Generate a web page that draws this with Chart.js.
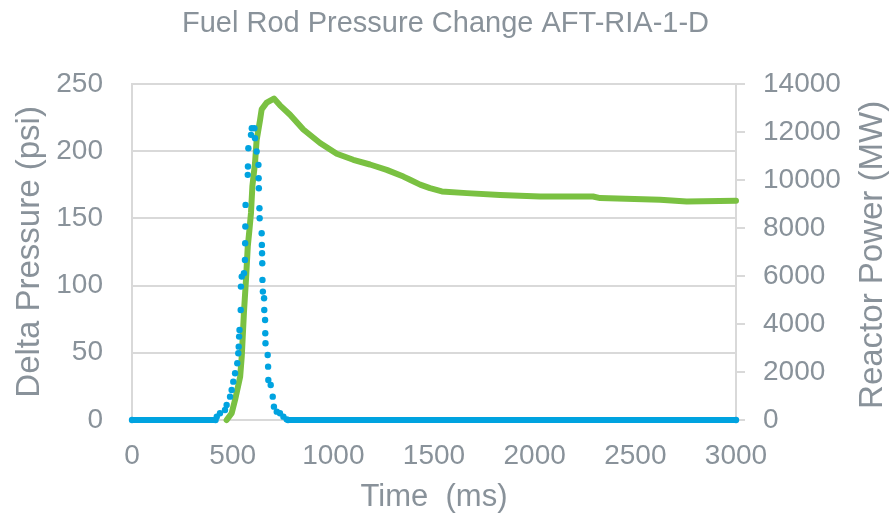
<!DOCTYPE html>
<html>
<head>
<meta charset="utf-8">
<script src="https://cdn.jsdelivr.net/npm/chart.js@4.4.1/dist/chart.umd.min.js"></script>
<style>
  html, body { margin: 0; padding: 0; background: #fff; }
  #wrap { width: 891px; height: 520px; }
</style>
</head>
<body>
<div id="wrap"><canvas id="chart" width="891" height="520"></canvas></div>
<script>
// Données
const xTicks = [0, 500, 1000, 1500, 2000, 2500, 3000];
const pressureTicks = [0, 50, 100, 150, 200, 250];
const powerTicks = [0, 2000, 4000, 6000, 8000, 10000, 12000, 14000];

// Delta Pressure (psi) - axe gauche
const pressureTime = [470, 495, 512, 537, 545, 556, 566, 575, 583, 591, 598, 611, 619, 636, 644, 669, 705, 735, 785, 851, 934, 1017, 1099, 1182, 1265, 1348, 1381, 1431, 1480, 1539, 1663, 1828, 2027, 2290, 2325, 2623, 2755, 3000];
const pressurePsi = [0, 5, 15, 32, 47, 80, 104, 129, 141, 154, 174, 191, 208, 223, 231, 236, 239, 234, 227, 216, 206, 198, 193.5, 190, 186, 181, 178.6, 175, 172.4, 170, 168.7, 167.4, 166.2, 166.2, 165, 163.7, 162.4, 163];

// Reactor Power (MW) - axe droit
const powerTime = [0, 415, 421, 437, 462, 470, 487, 495, 503, 512, 523, 528, 530, 532, 534, 540, 541, 545, 556, 561, 562, 563, 564, 575, 576, 578, 591, 595, 608, 611, 619, 628, 629, 630, 633, 634, 644, 645, 646, 647, 648, 650, 656, 657, 661, 662, 663, 674, 676, 677, 689, 699, 705, 719, 735, 752, 768, 775, 3000];
const powerMW = [0, 0, 139, 278, 417, 625, 972, 1250, 1597, 1944, 2361, 2778, 3055, 3472, 3750, 4583, 5556, 5972, 6111, 6667, 7361, 8055, 8958, 10208, 10555, 11319, 11875, 12152, 12152, 11736, 11180, 10625, 10069, 9653, 8820, 8403, 7778, 7292, 6944, 6528, 5833, 5347, 5069, 4583, 4167, 3611, 3194, 2708, 2222, 1667, 1458, 972, 556, 347, 278, 139, 28, 0, 0];

const textGray = '#89929A';
const gridGray = '#D9D9D9';
const blue = '#00A3E0';
const green = '#7AC142';
const fontFamily = '"Liberation Sans", Arial, sans-serif';

const pressureData = pressureTime.map((t, i) => ({ x: t, y: pressurePsi[i] }));
const powerData = powerTime.map((t, i) => ({ x: t, y: powerMW[i] }));

// Titre de l'axe droit, lu de bas en haut comme sur l'original
const rightTitle = {
    id: 'rightTitle',
    afterDraw(chart) {
        const ctx = chart.ctx;
        const area = chart.chartArea;
        ctx.save();
        ctx.translate(873, (area.top + area.bottom) / 2 + 3);
        ctx.rotate(-Math.PI / 2);
        ctx.font = '33px ' + fontFamily;
        ctx.fillStyle = textGray;
        ctx.textAlign = 'center';
        ctx.textBaseline = 'middle';
        ctx.fillText('Reactor Power (MW)', 0, 0);
        ctx.restore();
    }
};

const plainNumber = v => String(v);

new Chart(document.getElementById('chart'), {
    type: 'scatter',
    data: {
        datasets: [{
            label: 'Reactor Power',
            data: powerData,
            yAxisID: 'y1',
            showLine: true,
            clip: false,
            borderColor: blue,
            backgroundColor: blue,
            borderWidth: 6,
            pointRadius: 3.2,
            pointBorderWidth: 0,
            segment: {
                borderColor: c => (c.p0.parsed.y === 0 && c.p1.parsed.y === 0) ? blue : 'rgba(0,0,0,0)'
            }
        }, {
            label: 'Delta Pressure',
            data: pressureData,
            yAxisID: 'y',
            showLine: true,
            clip: false,
            borderColor: green,
            backgroundColor: green,
            borderWidth: 6,
            borderCapStyle: 'round',
            borderJoinStyle: 'round',
            pointRadius: 0
        }]
    },
    options: {
        responsive: false,
        animation: false,
        layout: { padding: 0 },
        plugins: {
            legend: { display: false },
            tooltip: { enabled: false },
            title: {
                display: true,
                text: 'Fuel Rod Pressure Change AFT-RIA-1-D',
                color: textGray,
                font: { family: fontFamily, size: 29, weight: 'normal' },
                padding: { top: 7, bottom: 42 }
            }
        },
        scales: {
            x: {
                type: 'linear',
                min: 0,
                max: 3000,
                afterBuildTicks: s => { s.ticks = xTicks.map(v => ({ value: v })); },
                afterFit: s => { s.height = 100; },
                grid: { display: false, drawTicks: false },
                border: { display: false },
                ticks: { color: textGray, font: { family: fontFamily, size: 28 }, padding: 19, callback: plainNumber },
                title: {
                    display: true,
                    text: 'Time  (ms)',
                    color: textGray,
                    font: { family: fontFamily, size: 31 },
                    padding: { top: 0, bottom: 4 }
                }
            },
            y: {
                position: 'left',
                min: 0,
                max: 250,
                afterBuildTicks: s => { s.ticks = pressureTicks.map(v => ({ value: v })); },
                afterFit: s => { s.width = 132; },
                grid: { color: gridGray, lineWidth: 2, drawTicks: false },
                border: { display: true, color: gridGray, width: 2 },
                ticks: { color: textGray, font: { family: fontFamily, size: 28 }, padding: 29, callback: plainNumber },
                title: {
                    display: true,
                    text: 'Delta Pressure (psi)',
                    color: textGray,
                    font: { family: fontFamily, size: 33 },
                    padding: { top: 10, bottom: 0 }
                }
            },
            y1: {
                position: 'right',
                min: 0,
                max: 14000,
                afterBuildTicks: s => { s.ticks = powerTicks.map(v => ({ value: v })); },
                afterFit: s => { s.width = 155; },
                grid: { drawOnChartArea: false, color: gridGray, lineWidth: 2, tickLength: 9 },
                border: { display: true, color: gridGray, width: 2 },
                ticks: { color: textGray, font: { family: fontFamily, size: 28 }, padding: 18, callback: plainNumber }
            }
        }
    },
    plugins: [rightTitle]
});
</script>
</body>
</html>
